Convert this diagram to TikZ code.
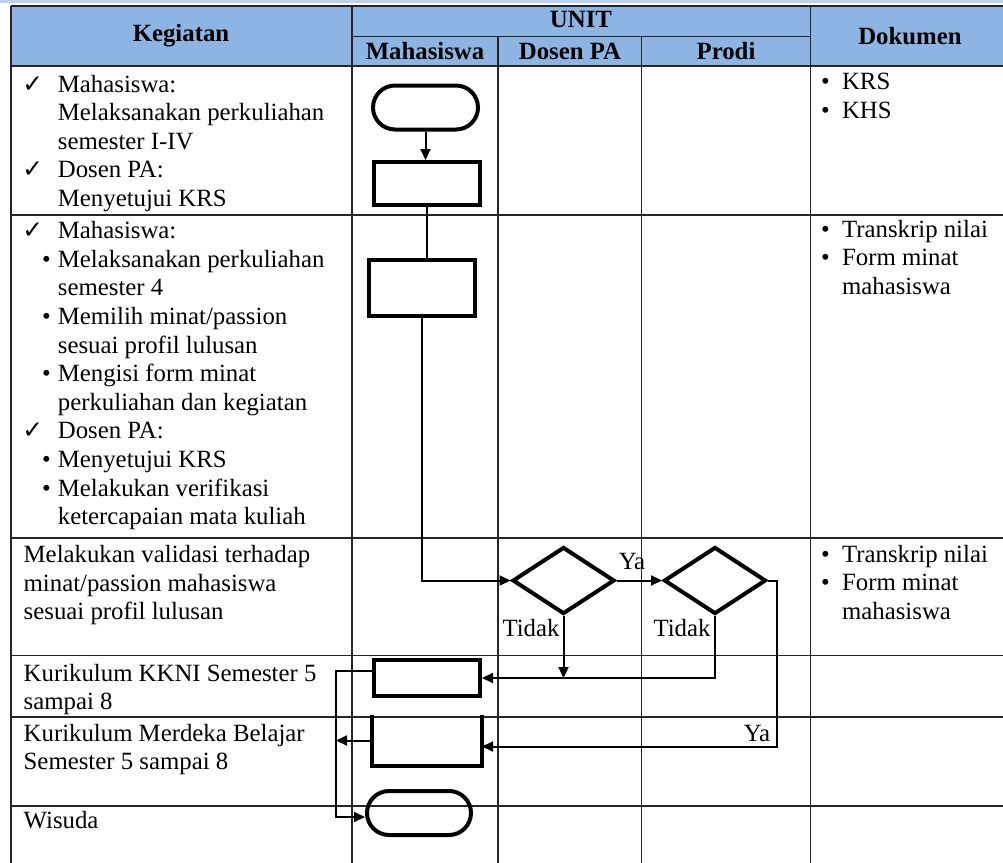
\documentclass[tikz,border=0pt]{standalone}
\usepackage{fontspec}
\setmainfont{Liberation Serif}
\newfontfamily\symfont{DejaVu Sans}
\usetikzlibrary{shapes.geometric}
\usetikzlibrary{arrows.meta}

\definecolor{biruKepala}{RGB}{142,180,227}
\definecolor{biruTipis}{RGB}{190,208,236}

\newcommand{\fs}{\fontsize{12.4}{14.3}\selectfont}
\newcommand{\atas}{\rule{0pt}{10pt}}
\newcommand{\cek}{\makebox[17.75pt][l]{\symfont ✓}}
\newcommand{\butir}{\makebox[17.75pt][r]{\textbullet\hspace{3.5pt}}}
\newcommand{\sela}{\hspace*{17.75pt}}
\newcommand{\dok}{\makebox[10.5pt][l]{\textbullet}}
\newcommand{\seladok}{\hspace*{10.5pt}}

\begin{document}
\begin{tikzpicture}[x=0.5pt,y=-0.5pt,
  garis/.style={line width=0.7pt,color=black!85},
  proses/.style={draw,line width=2pt,rectangle,inner sep=0pt,minimum width=53pt},
  mulai/.style={draw,line width=2pt,rectangle,rounded corners=11pt,inner sep=0pt,minimum width=52.5pt,minimum height=22pt},
  putusan/.style={draw,line width=2pt,diamond,inner sep=0pt,minimum width=51pt,minimum height=33.5pt},
  alur/.style={line width=1pt,-{Triangle[length=5.5pt,width=5pt]}},
  sel/.style={anchor=north west,inner sep=0pt,align=left,font=\fs},
  judul/.style={inner sep=0pt,font=\fs\bfseries},
  ket/.style={inner sep=0pt,font=\fs}]
\useasboundingbox (0,0) rectangle (1003,863);
%\clip (0,0) rectangle (1003,863);
\fill [color=biruTipis] (0,0) rectangle (1003,3);
\fill [color=biruKepala] (11,6) rectangle (1003,66);
% garis tabel
\draw [garis] (11,6) -- (1003,6);
\draw [garis] (352,36.5) -- (810.5,36.5);
\foreach \y in {66,215,538,655.5,717,806}
  \draw [garis] (11,\y) -- (1003,\y);
\foreach \x in {11,352,810.5}
  \draw [garis] (\x,6) -- (\x,863);
\foreach \x in {498,641.5}
  \draw [garis] (\x,36.5) -- (\x,863);
% kepala
\node [judul] (hkeg) at (181,36) {Kegiatan};
\node [judul] (hunit) at (581,19) {UNIT};
\node [judul] (hmhs) at (425,51) {Mahasiswa};
\node [judul] (hpa) at (570,51) {Dosen PA};
\node [judul] (hprodi) at (726,51) {Prodi};
\node [judul] (hdok) at (910,36) {Dokumen};
% kolom kegiatan
\node [sel] (keg1) at (22,71.7) {\atas\cek Mahasiswa:\\ \sela Melaksanakan perkuliahan\\ \sela semester I-IV\\ \cek Dosen PA:\\ \sela Menyetujui KRS};
\node [sel] (keg2) at (22,218.3) {\atas\cek Mahasiswa:\\ \butir Melaksanakan perkuliahan\\ \sela semester 4\\ \butir Memilih minat/passion\\ \sela sesuai profil lulusan\\ \butir Mengisi form minat\\ \sela perkuliahan dan kegiatan\\ \cek Dosen PA:\\ \butir Menyetujui KRS\\ \butir Melakukan verifikasi\\ \sela ketercapaian mata kuliah};
\node [sel] (keg3) at (23.3,542.3) {\atas Melakukan validasi terhadap\\ minat/passion mahasiswa\\ sesuai profil lulusan};
\node [sel] (keg4) at (23.3,660.7) {\atas Kurikulum KKNI Semester 5\\ sampai 8};
\node [sel] (keg5) at (23.3,720.7) {\atas Kurikulum Merdeka Belajar\\ Semester 5 sampai 8};
\node [sel] (keg6) at (23.3,808.3) {\atas Wisuda};
% kolom dokumen
\node [sel] (dok1) at (820.7,69.3) {\atas\dok KRS\\ \dok KHS};
\node [sel] (dok2) at (820.7,216.7) {\atas\dok Transkrip nilai\\ \dok Form minat\\ \seladok mahasiswa};
\node [sel] (dok3) at (820.7,541.7) {\atas\dok Transkrip nilai\\ \dok Form minat\\ \seladok mahasiswa};
% bagan alir
\node [mulai] (mulai) at (425.5,107.5) {};
\node [proses,minimum height=21.5pt] (krs) at (427,183.5) {};
\node [proses,minimum height=28pt] (minat) at (422,288) {};
\node [putusan] (cekpa) at (563.5,580.5) {};
\node [putusan] (cekprodi) at (715,580.5) {};
\node [proses,minimum height=18pt] (kkni) at (427,678) {};
\node [proses,draw=none,minimum height=23.5pt] (mbkm) at (427,740.5) {};
\draw [line width=2pt] (mbkm.north west) -- (mbkm.south west) -- (mbkm.south east) -- (mbkm.north east);
\node [mulai,minimum width=52pt] (wisuda) at (419,813) {};
\coordinate (bus) at (336,817);
\draw [alur] (mulai.south) -- (mulai.south |- krs.north);
\draw [line width=1pt] (krs.south) -- (krs.south |- minat.north);
\draw [alur] (minat.south) |- (cekpa.west);
\draw [alur] (cekpa.east) -- (cekprodi.west);
\draw [alur] (cekpa.south) -- (cekpa.south |- kkni.east);
\draw [alur] (cekprodi.south) |- (kkni.east);
\draw [alur] (cekprodi.east) -- ++(9,0) |- ([yshift=-3pt]mbkm.east);
\draw [alur] ([yshift=3.5pt]kkni.west) -| (bus) -- (bus -| wisuda.west);
\draw [alur] (mbkm.west) -- (mbkm.west -| bus);
\node [ket] (ya1) at (632,561) {Ya};
\node [ket] (tidak1) at (531,628) {Tidak};
\node [ket] (tidak2) at (682,628) {Tidak};
\node [ket] (ya2) at (757,733) {Ya};
\end{tikzpicture}
\end{document}
